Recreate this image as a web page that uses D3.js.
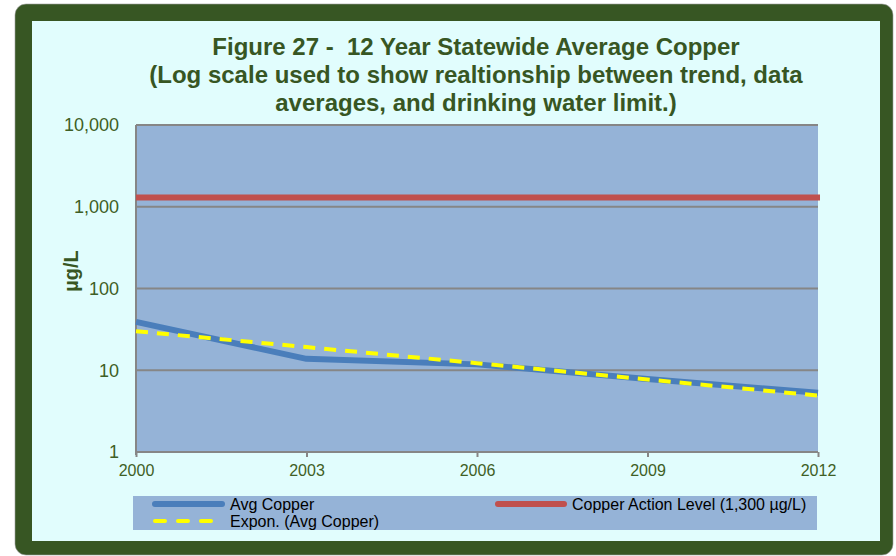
<!DOCTYPE html>
<html>
<head>
<meta charset="utf-8">
<script src="https://cdn.jsdelivr.net/npm/d3@7"></script>
<style>
  html, body { margin: 0; padding: 0; background: #ffffff; }
  svg { display: block; font-family: "Liberation Sans", Arial, sans-serif; }
</style>
</head>
<body>
<svg id="chart" width="896" height="556"></svg>
<script>
// ---- data ----
const years = [2000, 2003, 2006, 2009, 2012];
const avgCopper = [39, 13.8, 11.8, 7.8, 5.3];
const exponTrend = [30, 19.2, 12.2, 7.7, 4.9];
const actionLevel = 1300;
const yTicks = [1, 10, 100, 1000, 10000];
const titleLines = [
  "Figure 27 -  12 Year Statewide Average Copper",
  "(Log scale used to show realtionship between trend, data",
  "averages, and drinking water limit.)"
];
const legendLabels = ["Avg Copper", "Copper Action Level (1,300 µg/L)", "Expon. (Avg Copper)"];
const yAxisTitle = "µg/L";

// ---- styles ----
const darkGreen = "#375623";
const textGreen = "#3f5f25";
const panel = "#e1fdfd";
const plotBg = "#95b3d7";
const gridC = "#868686";
const blue = "#4a7ebb";
const red = "#c0504d";
const yellow = "#ffff00";

const svg = d3.select("#chart");

// outer frame
svg.append("rect").attr("x", 15).attr("y", 4).attr("width", 878).attr("height", 551)
  .attr("rx", 11).attr("fill", darkGreen).attr("stroke", "#a0a0a0").attr("stroke-width", 0.6);
svg.append("rect").attr("x", 32).attr("y", 21).attr("width", 848).attr("height", 520)
  .attr("fill", panel);

// scales
const x = d3.scaleLinear().domain([2000, 2012]).range([136, 818]);
const y = d3.scaleLog().domain([1, 10000]).range([452, 125]);

// plot background
svg.append("rect").attr("x", x(2000)).attr("y", y(10000))
  .attr("width", x(2012) - x(2000)).attr("height", y(1) - y(10000))
  .attr("fill", plotBg);

// gridlines
svg.append("g").selectAll("line").data(yTicks.filter(d => d > 1)).join("line")
  .attr("x1", x(2000)).attr("x2", x(2012))
  .attr("y1", d => y(d)).attr("y2", d => y(d))
  .attr("stroke", gridC).attr("stroke-width", 2);

// axes
const xAxis = d3.axisBottom(x).tickValues(years).tickFormat(d3.format("d")).tickSize(5).tickPadding(6);
const gx = svg.append("g").attr("transform", `translate(0,${y(1)})`).call(xAxis);
gx.select(".domain").attr("stroke", gridC).attr("stroke-width", 2).attr("d", `M${x(2000)},0H${x(2012)}`);
gx.selectAll(".tick line").attr("stroke", gridC).attr("stroke-width", 2);
gx.selectAll(".tick text").attr("fill", textGreen).attr("font-size", 16)
  .attr("font-family", "Liberation Sans, Arial, sans-serif").attr("dy", null).attr("y", 24);

const yAxis = d3.axisLeft(y).tickValues(yTicks).tickFormat(d3.format(",")).tickSize(0).tickPadding(17);
const gy = svg.append("g").attr("transform", `translate(${x(2000)},0)`).call(yAxis);
gy.select(".domain").attr("stroke", gridC).attr("stroke-width", 2).attr("d", `M0,${y(10000)}V${y(1) + 3}`);
gy.selectAll(".tick text").attr("fill", textGreen).attr("font-size", 18)
  .attr("font-family", "Liberation Sans, Arial, sans-serif");

// action level line
svg.append("line")
  .attr("x1", x(2000)).attr("x2", x(2012) + 2)
  .attr("y1", y(actionLevel)).attr("y2", y(actionLevel))
  .attr("stroke", red).attr("stroke-width", 6);

// avg copper line
const line = d3.line().x((d, i) => x(years[i])).y(d => y(d));
svg.append("path").datum(avgCopper).attr("d", line)
  .attr("fill", "none").attr("stroke", blue).attr("stroke-width", 6).attr("stroke-linejoin", "round");

// trend line
svg.append("path").datum(exponTrend).attr("d", line)
  .attr("fill", "none").attr("stroke", yellow).attr("stroke-width", 4)
  .attr("stroke-dasharray", "12,9");

// title
const title = svg.append("text").attr("text-anchor", "middle")
  .attr("font-size", 24).attr("font-weight", "bold").attr("fill", darkGreen)
  .style("white-space", "pre");
titleLines.forEach((t, i) => {
  title.append("tspan").attr("x", 476).attr("y", 55 + i * 28).text(t);
});

// y axis title
svg.append("text").attr("transform", "translate(78,271) rotate(-90)")
  .attr("text-anchor", "middle").attr("font-size", 20).attr("font-weight", "bold")
  .attr("fill", darkGreen).text(yAxisTitle);

// legend
const lg = svg.append("g");
lg.append("rect").attr("x", 133).attr("y", 496).attr("width", 684).attr("height", 34).attr("fill", plotBg);
lg.append("line").attr("x1", 155).attr("x2", 222).attr("y1", 504).attr("y2", 504)
  .attr("stroke", blue).attr("stroke-width", 6).attr("stroke-linecap", "round");
lg.append("text").attr("x", 230).attr("y", 509.5).attr("font-size", 16).attr("fill", "#000").text(legendLabels[0]);
lg.append("line").attr("x1", 498).attr("x2", 564).attr("y1", 504).attr("y2", 504)
  .attr("stroke", red).attr("stroke-width", 6).attr("stroke-linecap", "round");
lg.append("text").attr("x", 572).attr("y", 509.5).attr("font-size", 16).attr("fill", "#000").text(legendLabels[1]);
lg.append("line").attr("x1", 155).attr("x2", 212).attr("y1", 521).attr("y2", 521)
  .attr("stroke", yellow).attr("stroke-width", 4).attr("stroke-linecap", "round")
  .attr("stroke-dasharray", "10,13");
lg.append("text").attr("x", 230).attr("y", 526.5).attr("font-size", 16).attr("fill", "#000").text(legendLabels[2]);
</script>
</body>
</html>
